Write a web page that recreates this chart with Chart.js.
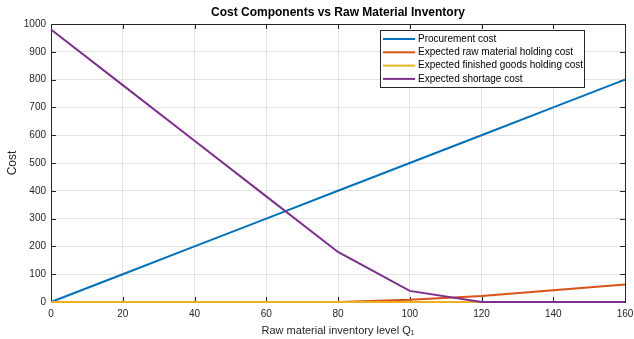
<!DOCTYPE html>
<html><head><meta charset="utf-8">
<script src="https://cdn.jsdelivr.net/npm/chart.js@4"></script>
<style>html,body{margin:0;padding:0;background:#fff}#w{width:634px;height:339px}</style>
</head><body><div id="w"><canvas id="c" width="634" height="339"></canvas></div>
<script>
const inventory = [0, 20, 40, 60, 80, 100, 120, 140, 160];
const procurementCost = [0, 100, 200, 300, 400, 500, 600, 700, 800];
const rawHoldingCost = [0, 0, 0, 0, 0, 8, 22, 42, 63];
const finishedHoldingCost = [0, 0, 0, 0, 0, 0, 0, 0, 0];
const shortageCost = [980, 780, 580, 380, 180, 40, 0, 0, 0];
const seriesNames = ['Procurement cost', 'Expected raw material holding cost', 'Expected finished goods holding cost', 'Expected shortage cost'];
const seriesColors = ['#0072BD', '#D95319', '#EDB120', '#7E2F8E'];
const xTicks = [0, 20, 40, 60, 80, 100, 120, 140, 160];
const yTicks = [0, 100, 200, 300, 400, 500, 600, 700, 800, 900, 1000];
const chartTitle = 'Cost Components vs Raw Material Inventory';

const FONT = 'Liberation Sans, Arial, Helvetica, sans-serif';
const allSeries = [procurementCost, rawHoldingCost, finishedHoldingCost, shortageCost];
const datasets = allSeries.map((vals, i) => ({
  label: seriesNames[i],
  data: inventory.map((x, j) => ({x, y: vals[j]})),
  borderColor: seriesColors[i],
  backgroundColor: seriesColors[i],
  borderWidth: 2,
  pointRadius: 0,
  fill: false,
  tension: 0,
  clip: 3,
  order: 4 - i
}));

const boxPlugin = {
  id: 'box',
  beforeDatasetsDraw(chart) {
    const {ctx, chartArea: a, scales} = chart;
    ctx.save();
    ctx.strokeStyle = '#262626';
    ctx.lineWidth = 1;
    ctx.strokeRect(Math.round(a.left) + 0.5, Math.round(a.top) + 0.5, Math.round(a.right - a.left), Math.round(a.bottom - a.top));
    ctx.beginPath();
    xTicks.forEach(v => {
      const x = Math.round(scales.x.getPixelForValue(v)) + 0.5;
      ctx.moveTo(x, a.bottom); ctx.lineTo(x, a.bottom - 5);
      ctx.moveTo(x, a.top); ctx.lineTo(x, a.top + 5);
    });
    yTicks.forEach(v => {
      const y = Math.round(scales.y.getPixelForValue(v)) + 0.5;
      ctx.moveTo(a.left, y); ctx.lineTo(a.left + 5, y);
      ctx.moveTo(a.right, y); ctx.lineTo(a.right - 5, y);
    });
    ctx.stroke();
    ctx.restore();
  },
  afterDatasetsDraw(chart) {
    const {ctx, chartArea: a} = chart;
    ctx.save();
    ctx.fillStyle = '#000';
    ctx.font = 'bold 12px ' + FONT;
    ctx.textAlign = 'center';
    ctx.textBaseline = 'middle';
    ctx.fillText(chartTitle, (a.left + a.right) / 2, 13);
    const lx = 380, ly = 30, lw = 204, lh = 57;
    ctx.fillStyle = '#fff';
    ctx.fillRect(lx, ly, lw, lh);
    ctx.strokeStyle = '#262626';
    ctx.lineWidth = 1;
    ctx.strokeRect(lx + 0.5, ly + 0.5, lw, lh);
    ctx.font = '10px ' + FONT;
    ctx.textBaseline = 'middle';
    ctx.textAlign = 'left';
    seriesNames.forEach((n, i) => {
      const y = 39 + i * 13.3;
      ctx.strokeStyle = seriesColors[i];
      ctx.lineWidth = 2;
      ctx.beginPath(); ctx.moveTo(383, y); ctx.lineTo(415, y); ctx.stroke();
      ctx.fillStyle = '#000';
      ctx.fillText(n, 418, y);
    });
    ctx.restore();
  }
};

new Chart(document.getElementById('c'), {
  type: 'line',
  data: {datasets},
  options: {
    responsive: false,
    animation: false,
    devicePixelRatio: 1,
    layout: {padding: {left: 0, right: 0, top: 24, bottom: 0}},
    plugins: {
      legend: {display: false},
      tooltip: {enabled: false},
      title: {display: false}
    },
    scales: {
      x: {
        type: 'linear', min: 0, max: 160,
        afterBuildTicks: s => { s.ticks = xTicks.map(v => ({value: v})); },
        afterFit: s => { s.height = 37; s.paddingRight = 9; },
        ticks: {color: '#262626', font: {family: FONT, size: 10}, padding: 6, maxRotation: 0,
          callback: v => String(v)},
        grid: {color: '#e3e3e3', drawTicks: false},
        border: {display: false},
        title: {display: true, text: 'Raw material inventory level Q\u2081', color: '#262626',
          font: {family: FONT, size: 11}, padding: {top: 0, bottom: 1}}
      },
      y: {
        min: 0, max: 1000,
        afterBuildTicks: s => { s.ticks = yTicks.map(v => ({value: v})); },
        afterFit: s => { s.width = 51; },
        ticks: {color: '#262626', font: {family: FONT, size: 10}, padding: 5,
          callback: v => String(v)},
        grid: {color: '#e3e3e3', drawTicks: false},
        border: {display: false},
        title: {display: true, text: 'Cost', color: '#262626',
          font: {family: FONT, size: 12}, padding: {top: 5, bottom: 0}}
      }
    }
  },
  plugins: [boxPlugin]
});
</script></body></html>
